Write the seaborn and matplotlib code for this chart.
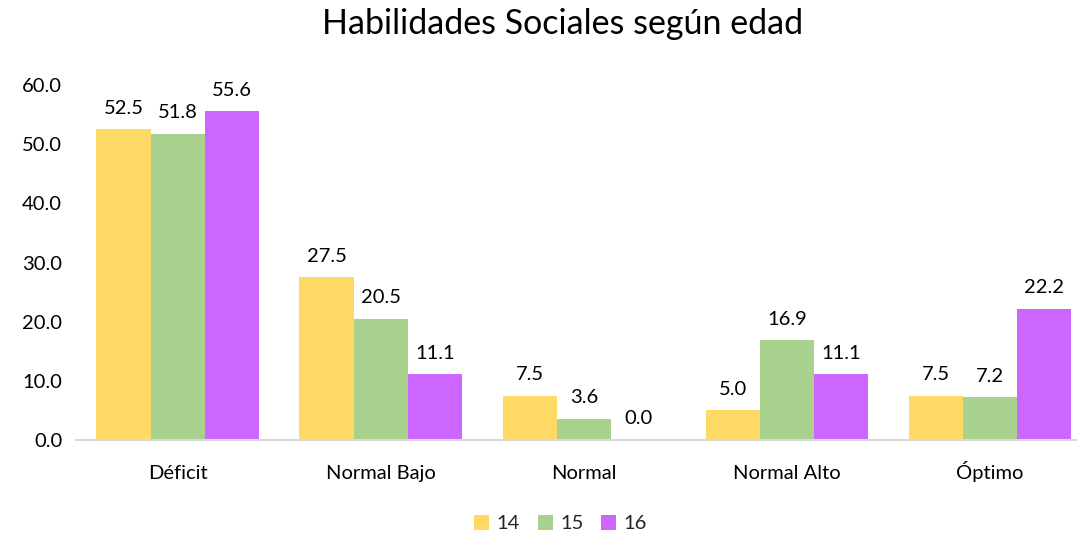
import pandas as pd
import matplotlib.pyplot as plt
import seaborn as sns

categories = ['Déficit', 'Normal Bajo', 'Normal', 'Normal Alto', 'Óptimo']
ages = ['14', '15', '16']
vals_14 = [52.5, 27.5, 7.5, 5.0, 7.5]
vals_15 = [51.8, 20.5, 3.6, 16.9, 7.2]
vals_16 = [55.6, 11.1, 0.0, 11.1, 22.2]
colors = ['#FFD966', '#A9D18E', '#CC66FF']

rows = []
for age, vals in zip(ages, [vals_14, vals_15, vals_16]):
    for cat, v in zip(categories, vals):
        rows.append({'Categoria': cat, 'Edad': age, 'Valor': v})
df = pd.DataFrame(rows)

sns.set_style('white')
plt.rcParams['font.family'] = ['Lato', 'DejaVu Sans']
fs = 14.5

fig = plt.figure(figsize=(10.77, 5.33), dpi=100)
ax = fig.add_axes([0.0706, 0.1745, 0.943, 0.666])

sns.barplot(data=df, x='Categoria', y='Valor', hue='Edad', palette=colors,
            width=0.8, saturation=1, ax=ax, edgecolor='none')

for c in ax.containers:
    ax.bar_label(c, fmt='%.1f', padding=9, fontsize=fs, color='black')

ax.set_ylim(0, 60)
ax.set_xlim(-0.5, 4.5)
ax.set_yticks(range(0, 61, 10))
ax.set_yticklabels([f'{v:.1f}' for v in range(0, 61, 10)], fontsize=fs, color='black')
ax.tick_params(axis='x', labelsize=fs, labelcolor='black', pad=28, length=0)
for t in ax.get_xticklabels():
    t.set_verticalalignment('baseline')
ax.tick_params(axis='y', length=0, pad=10)
ax.set_xlabel('')
ax.set_ylabel('')
for s in ['top', 'right', 'left']:
    ax.spines[s].set_visible(False)
ax.spines['bottom'].set_color('#D9D9D9')
ax.spines['bottom'].set_linewidth(1.5)

fig.suptitle('Habilidades Sociales según edad', fontsize=24.5, y=0.985, x=0.522,
             color='black')

leg = ax.legend(loc='upper center', bbox_to_anchor=(0.477, -0.16), ncol=3,
                frameon=False, fontsize=fs, handlelength=0.75, handleheight=0.75,
                handletextpad=0.35, columnspacing=0.9)
for h in leg.legend_handles:
    h.set_edgecolor('none')

fig.savefig('out.png', dpi=100)
